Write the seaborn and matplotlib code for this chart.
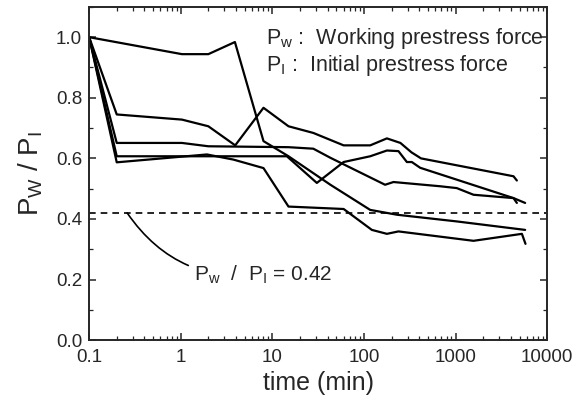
import matplotlib
matplotlib.use("Agg")
import matplotlib.pyplot as plt
import matplotlib.ticker as mticker
import seaborn as sns
import pandas as pd

# specimen curves: time (min) and P_W / P_I
t_a = [0.1, 1.03, 2.0, 3.9, 8.0, 15, 43, 117, 230, 1030, 5750]
r_a = [1.0, 0.944, 0.944, 0.984, 0.657, 0.607, 0.513, 0.43, 0.414, 0.392, 0.364]

t_b = [0.1, 0.2, 1.03, 2.0, 3.93, 8.0, 15, 28, 60, 117, 178, 250, 330, 420, 4290, 4670]
r_b = [1.0, 0.745, 0.728, 0.706, 0.643, 0.767, 0.706, 0.684, 0.643, 0.643, 0.666, 0.651, 0.62, 0.60, 0.541, 0.527]

t_c = [0.1, 0.2, 14.4, 30.6, 60, 117, 178, 238, 294, 333, 411, 4290, 5750]
r_c = [1.0, 0.607, 0.607, 0.519, 0.588, 0.607, 0.626, 0.624, 0.588, 0.588, 0.569, 0.469, 0.453]

t_d = [0.1, 0.2, 1.03, 2.0, 15, 28, 43, 170, 210, 680, 1030, 1570, 4290, 4670]
r_d = [1.0, 0.651, 0.651, 0.64, 0.637, 0.632, 0.602, 0.513, 0.522, 0.508, 0.502, 0.48, 0.469, 0.453]

t_e = [0.1, 0.2, 1.93, 3.76, 8, 15, 60, 122, 178, 238, 1570, 5300, 5800]
r_e = [1.0, 0.587, 0.613, 0.596, 0.568, 0.441, 0.433, 0.364, 0.351, 0.359, 0.328, 0.351, 0.318]

limit_ratio = 0.42

frames = []
for name, t, r in [("A", t_a, r_a), ("B", t_b, r_b), ("C", t_c, r_c),
                   ("D", t_d, r_d), ("E", t_e, r_e)]:
    frames.append(pd.DataFrame({"time": t, "ratio": r, "specimen": name}))
df = pd.concat(frames, ignore_index=True)

sns.set_style("ticks")
plt.rcParams["font.family"] = ["Liberation Sans", "DejaVu Sans"]
plt.rcParams["mathtext.default"] = "regular"

fig = plt.figure(figsize=(5.79, 4.05), dpi=100)
ax = fig.add_axes([0.154, 0.160, 0.791, 0.823])

sns.lineplot(data=df, x="time", y="ratio", units="specimen", estimator=None,
             sort=False, color="black", linewidth=1.6, ax=ax, legend=False)
ax.axhline(limit_ratio, color="black", linestyle=(0, (4, 3)), linewidth=1.2)

ax.set_xscale("log")
ax.set_xlim(0.1, 10000)
ax.set_ylim(0.0, 1.1)
ax.xaxis.set_major_locator(mticker.LogLocator(base=10))
ax.xaxis.set_major_formatter(mticker.FuncFormatter(lambda v, p: f"{v:g}"))
ax.xaxis.set_minor_locator(mticker.LogLocator(base=10, subs=range(2, 10)))
ax.xaxis.set_minor_formatter(mticker.NullFormatter())
ax.yaxis.set_major_locator(mticker.MultipleLocator(0.2))
ax.yaxis.set_minor_locator(mticker.MultipleLocator(0.1))
ax.yaxis.set_major_formatter(mticker.FormatStrFormatter("%.1f"))

ax.tick_params(which="both", direction="in", top=True, right=True, labelsize=13.5)
ax.tick_params(which="major", length=5, width=1.1)
ax.tick_params(which="minor", length=3, width=0.9)
ax.tick_params(axis="x", which="major", pad=6)
ax.tick_params(axis="y", which="major", pad=5)
for s in ax.spines.values():
    s.set_linewidth(1.4)

ax.set_xlabel("time (min)", fontsize=18, labelpad=4)
ax.set_ylabel("$P_W$ / $P_I$", fontsize=20, labelpad=8)

ax.text(8.6, 0.995, "$P_w$ :  Working prestress force", fontsize=15.5, va="center", ha="left")
ax.text(8.6, 0.905, "$P_I$ :  Initial prestress force", fontsize=15.5, va="center", ha="left")

ax.annotate("$P_w$  /  $P_I$ = 0.42", xy=(0.26, limit_ratio), xytext=(1.4, 0.215),
            fontsize=15, va="center", ha="left",
            arrowprops=dict(arrowstyle="-", color="black", linewidth=1.2,
                            shrinkA=2, shrinkB=0,
                            connectionstyle="arc3,rad=-0.3"))

fig.savefig("out.png", dpi=100)
